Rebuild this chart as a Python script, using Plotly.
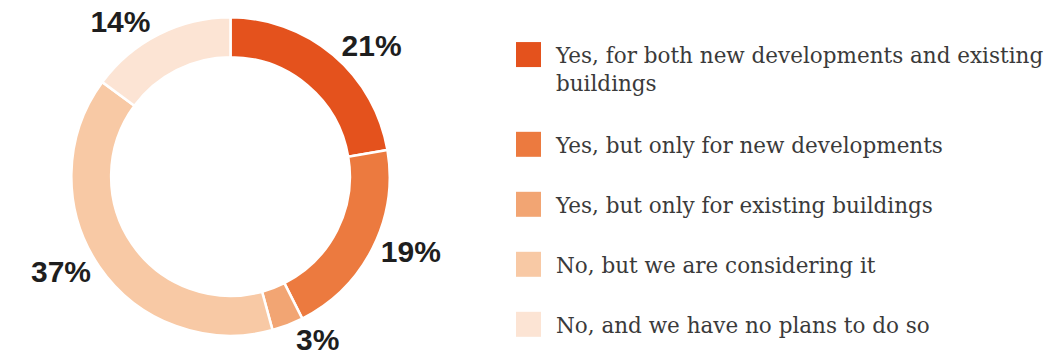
import textwrap
import plotly.graph_objects as go

# ---- data ----
categories = [
    "Yes, for both new developments and existing buildings",
    "Yes, but only for new developments",
    "Yes, but only for existing buildings",
    "No, but we are considering it",
    "No, and we have no plans to do so",
]
values = [21, 19, 3, 37, 14]
colors = ["#E4521D", "#EC7A3F", "#F2A573", "#F8C9A5", "#FCE4D4"]

W, H = 1057, 361

# ---- donut ----
cx, cy, R = 230.5, 176.0, 160.5
pie = go.Pie(
    labels=categories,
    values=values,
    sort=False,
    direction="clockwise",
    rotation=0,
    hole=0.75,
    marker=dict(colors=colors, line=dict(color="white", width=2.5)),
    texttemplate="%{value}%",
    textposition="outside",
    textfont=dict(family="Liberation Sans", size=30, color="#1e1e1e", weight=700),
    showlegend=False,
    hoverinfo="skip",
    domain=dict(
        x=[(cx - R) / W, (cx + R) / W],
        y=[(H - cy - R) / H, (H - cy + R) / H],
    ),
)

# ---- custom legend (big squares), laid out by index ----
wrapped = [textwrap.wrap(c, 43) for c in categories]
leg_x_sq = 528.5
leg_x_txt = 556
leg_y0 = 53
leg_step = 60.5
leg_line = 30
fs = 21.5
sq_y, txt_y = [], []
y = leg_y0
for lines in wrapped:
    sq_y.append(y)
    txt_y.append(y + 8.5 - 0.75 * fs)
    y += leg_step + leg_line * (len(lines) - 1)

leg_sq = go.Scatter(
    x=[leg_x_sq] * len(categories),
    y=sq_y,
    mode="markers",
    marker=dict(symbol="square", size=25, color=colors, line=dict(width=0)),
    showlegend=False,
    hoverinfo="skip",
    cliponaxis=False,
)
leg_txt = go.Scatter(
    x=[leg_x_txt] * len(categories),
    y=txt_y,
    mode="text",
    text=["<br>".join(l) for l in wrapped],
    textposition="bottom right",
    textfont=dict(family="DejaVu Serif", size=fs, color="#3a3a3a"),
    showlegend=False,
    hoverinfo="skip",
    cliponaxis=False,
)

fig = go.Figure([pie, leg_sq, leg_txt])
fig.update_layout(
    width=W,
    height=H,
    margin=dict(l=0, r=0, t=0, b=0),
    paper_bgcolor="white",
    plot_bgcolor="rgba(0,0,0,0)",
    xaxis=dict(range=[0, W], visible=False, domain=[0, 1], fixedrange=True),
    yaxis=dict(range=[H, 0], visible=False, domain=[0, 1], fixedrange=True),
)
fig.write_html("out.html")
